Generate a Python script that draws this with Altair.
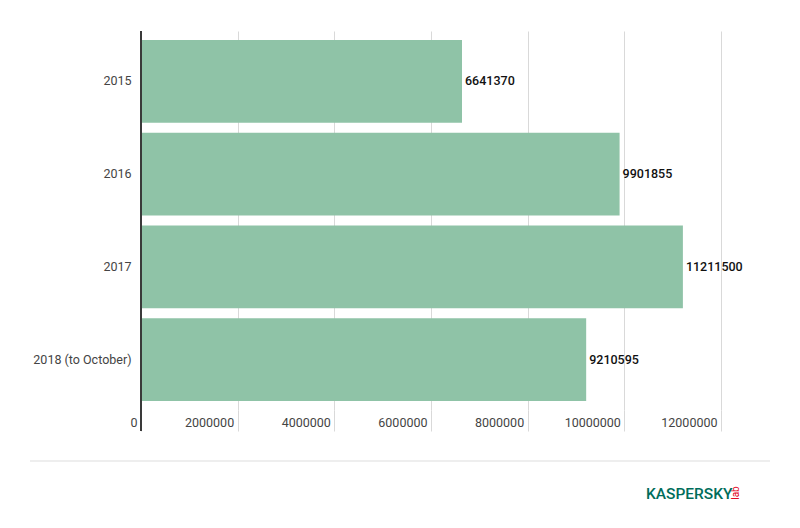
import altair as alt
import pandas as pd

years = ["2015", "2016", "2017", "2018 (to October)"]
values = [6641370, 9901855, 11211500, 9210595]
x_ticks = [0, 2000000, 4000000, 6000000, 8000000, 10000000, 12000000]

df = pd.DataFrame({"year": years, "value": values})

FONT = "Roboto"
W, H = 580, 379

y_enc = alt.Y("year:N", sort=years, title=None,
              scale=alt.Scale(paddingInner=0.108, paddingOuter=0.097),
              axis=alt.Axis(domain=False, ticks=False, grid=False, labelPadding=10,
                            labelFont=FONT, labelFontSize=12.5, labelColor="#444444"))
x_enc = alt.X("value:Q", title=None,
              scale=alt.Scale(domain=[0, 12000000], nice=False),
              axis=alt.Axis(values=x_ticks, format="d", domain=False,
                            tickSize=21, tickColor="#d9d9d9", tickWidth=1,
                            grid=True, gridColor="#d9d9d9", gridWidth=1,
                            labelAlign="right", labelOffset=-4, labelBaseline="middle",
                            labelPadding=-9, labelFont=FONT, labelFontSize=12.5,
                            labelColor="#444444", labelFlush=False, labelOverlap=False))

base = alt.Chart(df)
bars = base.mark_bar(color="#8FC3A7").encode(x=x_enc, y=y_enc)
labels = base.mark_text(align="left", baseline="middle", dx=3, font=FONT,
                        fontSize=12.5, fontWeight=500, color="#111111").encode(
    x="value:Q", y=alt.Y("year:N", sort=years), text=alt.Text("value:Q", format="d"))

one = pd.DataFrame({"k": [0]})
axis_line = alt.Chart(one).mark_rule(color="#3a3a3a", strokeWidth=2).encode(
    x=alt.value(0), y=alt.value(0), y2=alt.value(400))
sep = alt.Chart(one).mark_rule(color="#dddddd", strokeWidth=1).encode(
    x=alt.value(-111), x2=alt.value(629), y=alt.value(430))
logo = alt.Chart(one).mark_text(text="KASPERSKY", align="left", baseline="middle",
                                font=FONT, fontSize=15.5, fontWeight=500,
                                color="#006D5B").encode(
    x=alt.value(505), y=alt.value(463))
lab = alt.Chart(one).mark_text(text="lab", align="center", baseline="middle",
                               font=FONT, fontSize=10, angle=270,
                               color="#E2001A").encode(
    x=alt.value(595), y=alt.value(462))

chart = alt.layer(bars, labels, axis_line, sep, logo, lab).properties(
    width=W, height=H,
    background="white",
    autosize=alt.AutoSizeParams(type="none"),
    padding={"left": 133, "top": 23, "right": 60, "bottom": 110},
).configure_view(stroke="transparent", strokeWidth=0)

chart.save("out.html", embed_options={"renderer": "svg", "actions": False})
